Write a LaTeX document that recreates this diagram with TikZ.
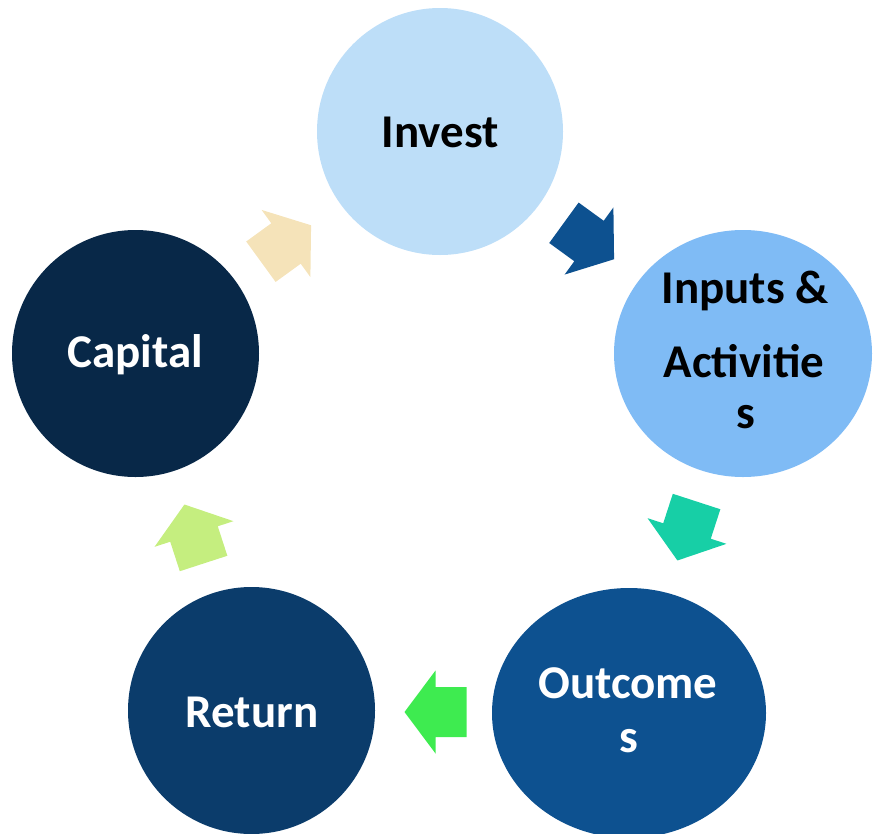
\documentclass[tikz,border=0pt]{standalone}
\usepackage{fontspec}
\setmainfont{Carlito}
\usetikzlibrary{shapes.geometric}
\definecolor{cInvest}{HTML}{BDDEF8}
\definecolor{cInputs}{HTML}{7FBBF5}
\definecolor{cOutcomes}{HTML}{0D5190}
\definecolor{cReturn}{HTML}{0B3C6B}
\definecolor{cCapital}{HTML}{082848}
\definecolor{aOne}{HTML}{0D5190}
\definecolor{aTwo}{HTML}{17CFA6}
\definecolor{aThree}{HTML}{3EEB50}
\definecolor{aFour}{HTML}{C5EE7F}
\definecolor{aFive}{HTML}{F5E3B9}
\tikzset{
  blob/.style={ellipse, draw=none, inner sep=0pt},
  lbl/.style={anchor=base, inner sep=0pt, font=\fontsize{47}{47}\selectfont\bfseries},
}
\newcommand{\blockarr}[4]{%
  \coordinate (#1) at (#2);
  \begin{scope}[shift={(#2)}, rotate=#3]
    \fill[#4] (-31,-25) -- (0,-25) -- (0,-41.5) -- (31,0) -- (0,41.5) -- (0,25) -- (-31,25) -- cycle;
  \end{scope}}
\begin{document}
\begin{tikzpicture}[x=1pt,y=-1pt]
\useasboundingbox (0,0) rectangle (873,833);
% circles
\node[blob, fill=cInvest, minimum width=246pt, minimum height=247pt] (invest) at (440,131.5) {};
\node[blob, fill=cInputs, minimum width=258pt, minimum height=247pt] (inputs) at (743,353.5) {};
\node[blob, fill=cOutcomes, minimum width=274pt, minimum height=250pt] (outcomes) at (629,713) {};
\node[blob, fill=cReturn, minimum width=247pt, minimum height=247pt] (return) at (251.5,710.5) {};
\node[blob, fill=cCapital, minimum width=247pt, minimum height=247pt] (capital) at (135.5,353.5) {};
% labels
\node[lbl, text=black] (tInvest) at (440,147) {Invest};
\node[lbl, text=black] (tInputsA) at (745,303) {Inputs \&};
\node[lbl, text=black] (tInputsB) at (744,377) {Activitie};
\node[lbl, text=black] (tInputsC) at (746,428) {s};
\node[lbl, text=white] (tOutcomesA) at (628,698) {Outcome};
\node[lbl, text=white] (tOutcomesB) at (628.5,752) {s};
\node[lbl, text=white] (tReturn) at (252,727) {Return};
\node[lbl, text=white] (tCapital) at (135,367) {Capital};
% block arrows
\blockarr{arrA}{589,241}{-36}{aOne}
\blockarr{arrB}{687,531}{-108}{aTwo}
\blockarr{arrC}{435.5,712}{180}{aThree}
\blockarr{arrD}{194,534}{108}{aFour}
\blockarr{arrE}{286,243.5}{36}{aFive}
\end{tikzpicture}
\end{document}
